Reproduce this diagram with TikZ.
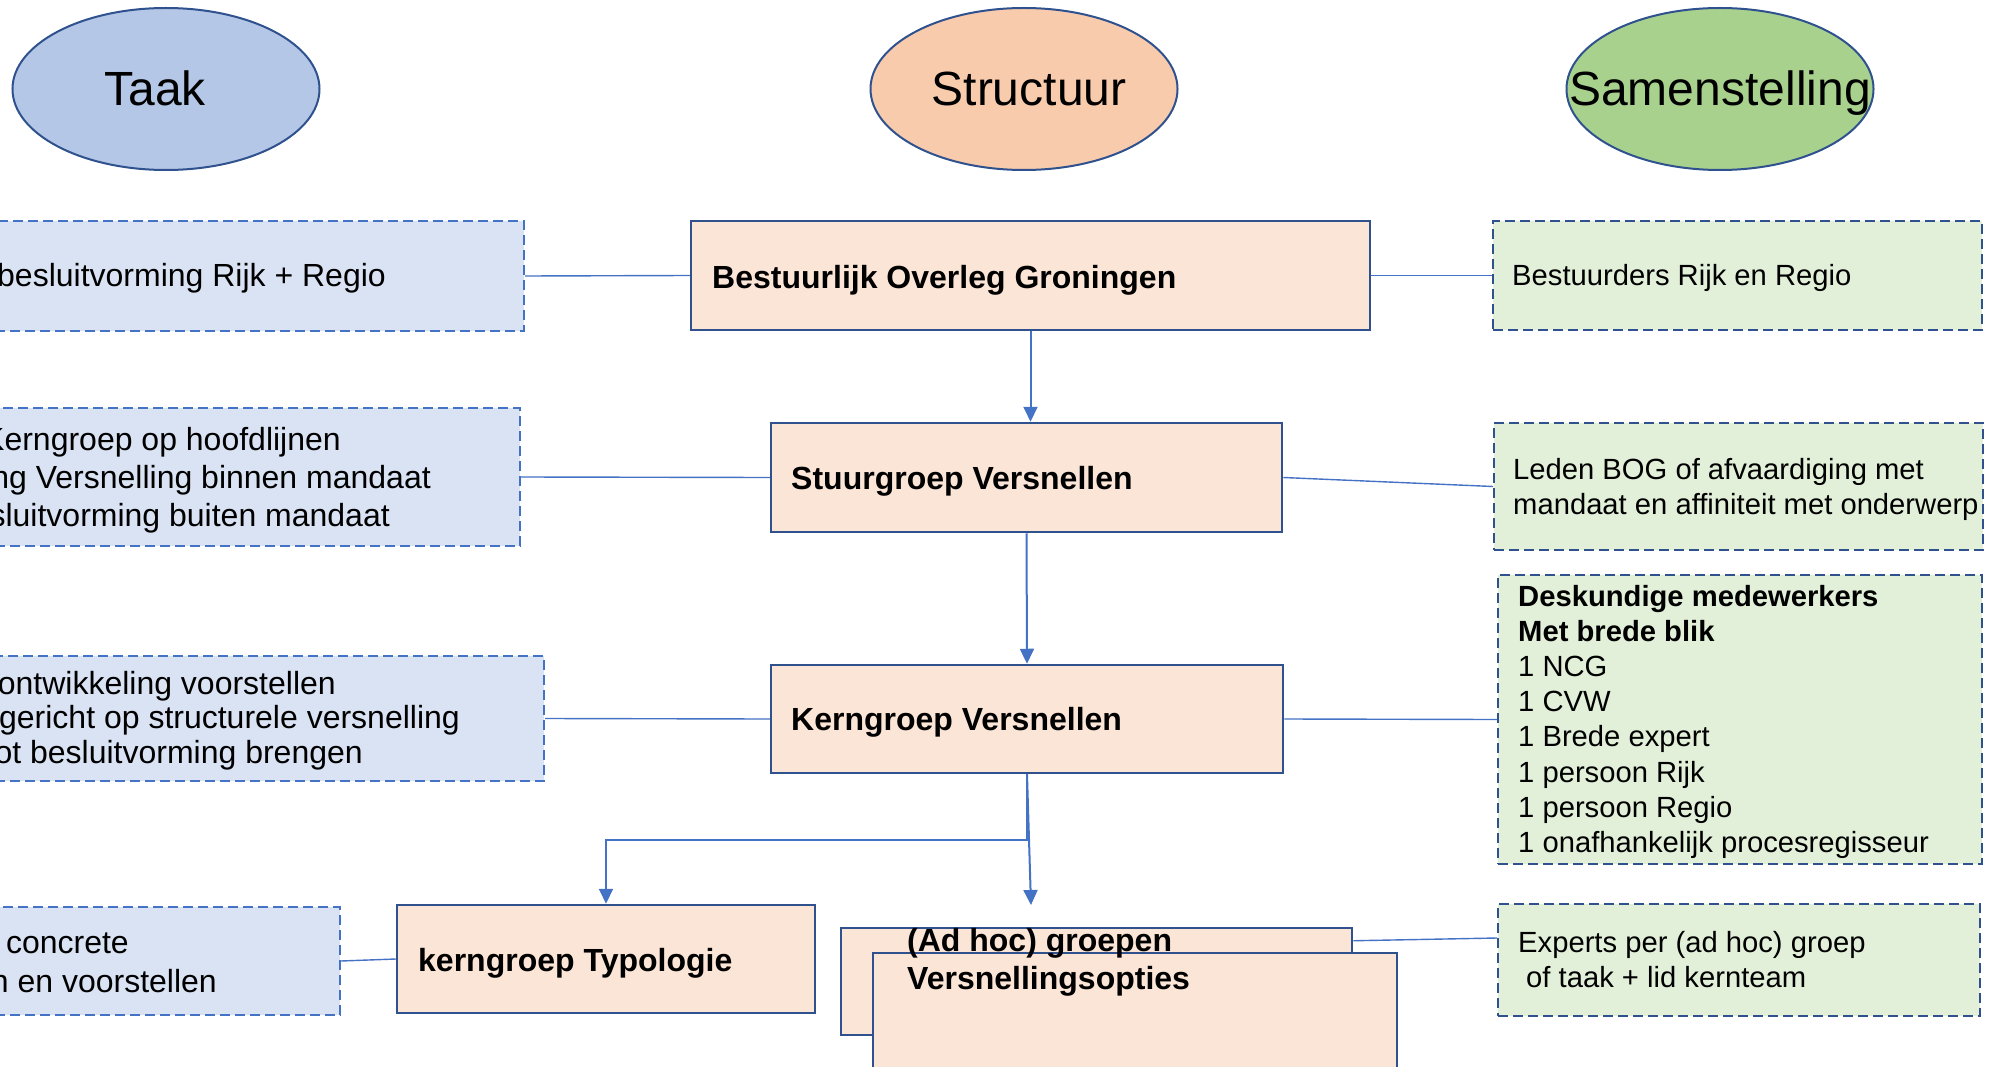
\documentclass[tikz,border=0pt]{standalone}
\usepackage{fontspec}
\setmainfont{Liberation Sans}
\usetikzlibrary{shapes.geometric,arrows.meta,calc}

\definecolor{ellblue}{HTML}{B4C7E7}
\definecolor{ellpeach}{HTML}{F8CBAD}
\definecolor{ellgreen}{HTML}{A9D18E}
\definecolor{dkblue}{HTML}{2F528F}
\definecolor{accent}{HTML}{4472C4}
\definecolor{peach}{HTML}{FBE5D6}
\definecolor{ltblue}{HTML}{DAE3F3}
\definecolor{ltgreen}{HTML}{E2F0D9}

\newcommand{\mylines}[1]{\begin{tabular}[t]{@{}l@{}}#1\end{tabular}}

\tikzset{
  ell/.style={ellipse, draw=dkblue, line width=2pt, minimum width=307pt, minimum height=162pt, inner sep=0pt},
  elltext/.style={font=\fontsize{48pt}{56pt}\selectfont, inner sep=0pt, anchor=base},
  pbox/.style={rectangle, draw=dkblue, fill=peach, line width=2.5pt, inner sep=0pt},
  ptext/.style={font=\bfseries\fontsize{32pt}{38pt}\selectfont, inner sep=0pt, anchor=base west},
  tbox/.style={rectangle, draw=accent, fill=ltblue, line width=2pt, dash pattern=on 10pt off 5pt, inner sep=0pt},
  ttext/.style={font=\fontsize{32pt}{38pt}\selectfont, inner sep=0pt, anchor=base east},
  sbox/.style={rectangle, draw=dkblue, fill=ltgreen, line width=2pt, dash pattern=on 10pt off 5pt, inner sep=0pt},
  stext/.style={font=\fontsize{29.2pt}{35.2pt}\selectfont, inner sep=0pt, anchor=base west},
  link/.style={draw=accent, line width=1.4pt},
  conn/.style={draw=accent, line width=2pt, -{Triangle[length=15pt,width=14pt]}},
}

\begin{document}
\begin{tikzpicture}[x=1pt,y=-1pt]
\useasboundingbox (0,0) rectangle (2004,1067);

% header ellipses
\node[ell, fill=ellblue] (taak) at (166,89) {};
\node[elltext] (taakT) at (155,106) {Taak};
\node[ell, fill=ellpeach] (struc) at (1024,89) {};
\node[elltext] (strucT) at (1029,106) {Structuur};
\node[ell, fill=ellgreen] (samen) at (1720,89) {};
\node[elltext] (samenT) at (1720,106) {Samenstelling};

% structure boxes
\node[pbox, minimum width=679pt, minimum height=109pt] (bog) at (1030.5,275.5) {};
\node[ptext] (bogT) at (712,288) {Bestuurlijk Overleg Groningen};
\node[pbox, minimum width=511pt, minimum height=109pt] (stuur) at (1026.5,477.5) {};
\node[ptext] (stuurT) at (791,489) {Stuurgroep Versnellen};
\node[pbox, minimum width=512pt, minimum height=108pt] (kern) at (1027,719) {};
\node[ptext] (kernT) at (791,730) {Kerngroep Versnellen};
\node[pbox, minimum width=418pt, minimum height=108pt] (typ) at (606,959) {};
\node[ptext] (typT) at (418,971) {kerngroep Typologie};
\node[pbox, minimum width=511pt, minimum height=107pt] (adback) at (1096.5,981.5) {};
\node[pbox, minimum width=524pt, minimum height=142pt] (adfront) at (1135,1024) {};
\node[ptext] (adtext) at (907,951) {\mylines{(Ad hoc) groepen\\Versnellingsopties}};

% task boxes (cut at the left edge)
\node[tbox, minimum width=544pt, minimum height=110pt] (t1) at (252,276) {};
\node[ttext] (t1a) at (386,287) {besluitvorming Rijk + Regio};
\node[tbox, minimum width=540pt, minimum height=138pt] (t2) at (250,477) {};
\node[ttext] (t2a) at (341,450) {Kerngroep op hoofdlijnen};
\node[ttext] (t2b) at (431,488) {ng Versnelling binnen mandaat};
\node[ttext] (t2c) at (390,526) {sluitvorming buiten mandaat};
\node[tbox, minimum width=564pt, minimum height=125pt] (t3) at (262,718.5) {};
\node[ttext] (t3a) at (336,694) {ontwikkeling voorstellen};
\node[ttext] (t3b) at (460,728.5) {gericht op structurele versnelling};
\node[ttext] (t3c) at (363,763) {ot besluitvorming brengen};
\node[tbox, minimum width=360pt, minimum height=108pt] (t4) at (160,961) {};
\node[ttext] (t4a) at (129,953) {concrete};
\node[ttext] (t4b) at (217,992) {n en voorstellen};

% composition boxes
\node[sbox, minimum width=489pt, minimum height=109pt] (s1) at (1737.5,275.5) {};
\node[stext] (s1T) at (1512,286) {Bestuurders Rijk en Regio};
\node[sbox, minimum width=489pt, minimum height=127pt] (s2) at (1738.5,486.5) {};
\node[stext] (s2T) at (1513,479) {\mylines{Leden BOG of afvaardiging met\\mandaat en affiniteit met onderwerp}};
\node[sbox, minimum width=484pt, minimum height=289pt] (s3) at (1740,719.5) {};
\node[stext] (s3T) at (1518,606) {\mylines{\textbf{Deskundige medewerkers}\\\textbf{Met brede blik}\\1 NCG\\1 CVW\\1 Brede expert\\1 persoon Rijk\\1 persoon Regio\\1 onafhankelijk procesregisseur}};
\node[sbox, minimum width=482pt, minimum height=112pt] (s4) at (1739,960) {};
\node[stext] (s4T) at (1518,952) {\mylines{Experts per (ad hoc) groep\\\hspace*{8pt}of taak + lid kernteam}};

% connectors
\draw[link] (t1.east) -- (bog.west);
\draw[link] (bog.east) -- (s1.west);
\draw[link] (t2.east) -- (stuur.west);
\draw[link] (stuur.east) -- (s2.west);
\draw[link] (t3.east) -- (kern.west);
\draw[link] (kern.east) -- (s3.west);
\draw[link] (t4.east) -- (typ.west);
\draw[link] ($(adback.north east)+(0,14)$) -- ($(s4.north west)+(0,35)$);

\draw[conn] (bog.south) -- (bog.south |- stuur.north);
\draw[conn] (stuur.south) -- (kern.north);
\draw[conn] (kern.south) -- ++(0,66) -| (typ.north);
\coordinate (adin) at (1031,905);
\draw[conn] (kern.south) -- (adin);
\end{tikzpicture}
\end{document}
